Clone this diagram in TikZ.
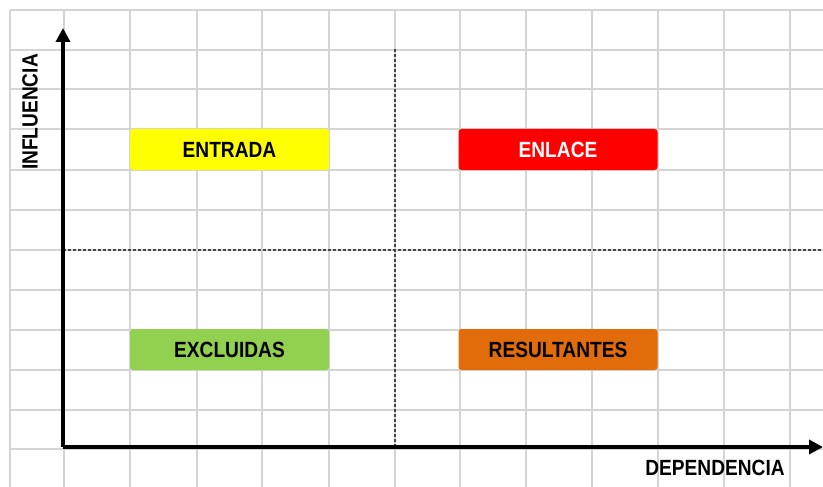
\documentclass[tikz,border=0pt]{standalone}
\usepackage{fontspec}
\usepackage{tikz}
\usetikzlibrary{arrows.meta,positioning}
\newfontfamily\quadfont{Liberation Sans}[FakeStretch=0.87]
\definecolor{gridgray}{RGB}{212,212,212}
\definecolor{dashgray}{RGB}{70,70,70}
\definecolor{qyellow}{RGB}{255,255,0}
\definecolor{qred}{RGB}{255,0,0}
\definecolor{qgreen}{RGB}{146,208,80}
\definecolor{qorange}{RGB}{227,108,10}
\tikzstyle{quad}=[rectangle,rounded corners=3pt,minimum width=199pt,minimum height=41pt,
                  inner sep=0pt,font=\quadfont\bfseries\fontsize{22}{22}\selectfont]
\tikzstyle{axlabel}=[inner sep=0pt,font=\quadfont\bfseries\fontsize{22}{22}\selectfont]
\tikzstyle{axis}=[-{Triangle[length=14pt,width=14pt]},line width=3.5pt,draw=black]
\tikzstyle{split}=[line width=2.2pt,draw=dashgray,dash pattern=on 3pt off 2pt]

\begin{document}
\begin{tikzpicture}[x=1pt,y=-1pt]
      \useasboundingbox (0,0) rectangle (823,487);
      \fill[white] (0,0) rectangle (823,487);
      % background grid
      \foreach \gx in {10,64,130,197,262,329,395,460,526,592,658,724,790}
        \draw[gridgray,line width=2pt] (\gx,10) -- (\gx,487);
      \foreach \gy in {10,50,89,129,170,210,250,290,330,370,410,449}
        \draw[gridgray,line width=2pt] (10,\gy) -- (823,\gy);
      % quadrant split
      \draw[split] (395,49) -- (395,447);
      \draw[split] (63,250) -- (823,250);
      % quadrants
      \node[quad,fill=qyellow,text=black] (entrada) at (229.5,149.5) {ENTRADA};
      \node[quad,fill=qred,text=white] (enlace) at (558,149.5) {ENLACE};
      \node[quad,fill=qgreen,text=black] (excluidas) at (229.5,349.5) {EXCLUIDAS};
      \node[quad,fill=qorange,text=black] (resultantes) at (558,349.5) {RESULTANTES};
      % axes
      \coordinate (origin) at (63,447);
      \coordinate (ytip) at (63,28);
      \coordinate (xtip) at (823,447);
      \draw[axis] (origin) -- (ytip);
      \draw[axis] (origin) -- (xtip);
      \node[axlabel,rotate=90] (influencia) at (30,112) {INFLUENCIA};
      \node[axlabel] (dependencia) at (715,468) {DEPENDENCIA};
    \end{tikzpicture}
\end{document}
